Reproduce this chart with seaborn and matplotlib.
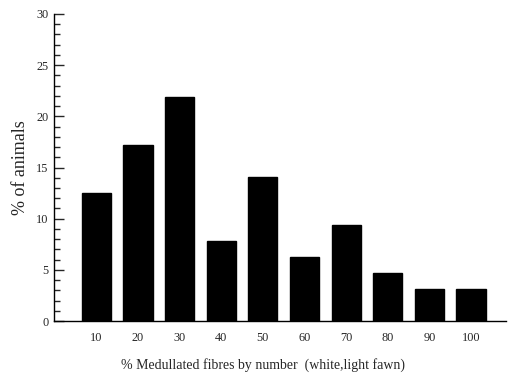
import matplotlib
matplotlib.use("Agg")
import matplotlib.pyplot as plt
import seaborn as sns
import pandas as pd
from matplotlib.ticker import MultipleLocator

categories = ["10", "20", "30", "40", "50", "60", "70", "80", "90", "100"]
values = [12.5, 17.19, 21.875, 7.81, 14.06, 6.25, 9.375, 4.69, 3.125, 3.125]

sns.set_style("white")
plt.rcParams['font.family'] = ['Liberation Serif', 'DejaVu Serif']

df = pd.DataFrame({"cat": categories, "val": values})
fig = plt.figure(figsize=(5.08, 3.76), dpi=100)
ax = fig.add_axes([0.106, 0.146, 0.890, 0.817])
sns.barplot(data=df, x="cat", y="val", color="black", width=0.7, saturation=1, ax=ax)
for p in ax.patches:
    p.set_edgecolor("black")
ax.set_xlim(-1.02, 9.84)
ax.set_ylim(0, 30)
ax.yaxis.set_major_locator(MultipleLocator(5))
ax.yaxis.set_minor_locator(MultipleLocator(1))
ax.tick_params(axis="y", which="major", direction="in", length=7, width=1, pad=4, labelsize=8.8, left=True)
ax.tick_params(axis="y", which="minor", direction="in", length=4.5, width=1, left=True)
ax.tick_params(axis="x", length=0, pad=8, labelsize=8.8)
for s in ["top", "right"]:
    ax.spines[s].set_visible(False)
for s in ["left", "bottom"]:
    ax.spines[s].set_color("black")
    ax.spines[s].set_linewidth(1)
ax.set_xlabel("% Medullated fibres by number  (white,light fawn)", fontsize=10, labelpad=10, x=0.462)
ax.set_ylabel("% of animals", fontsize=13, labelpad=5)
fig.savefig("out.png", dpi=100)
